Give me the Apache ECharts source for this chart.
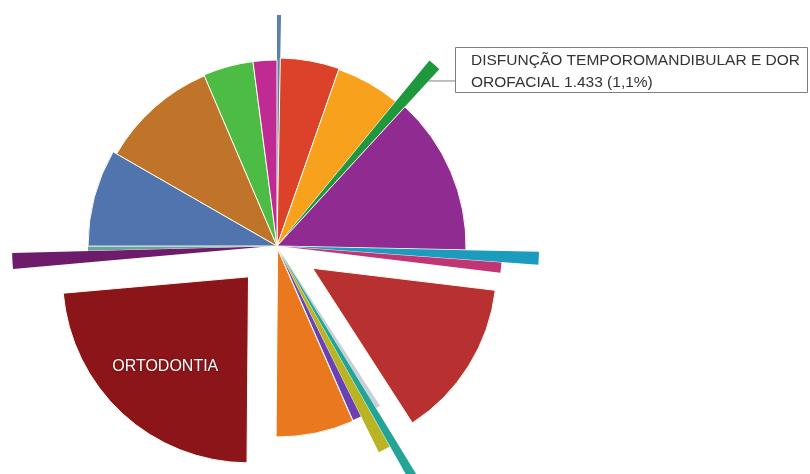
<!DOCTYPE html>
<html>
<head>
<meta charset="utf-8">
<script src="https://cdn.jsdelivr.net/npm/echarts@6/dist/echarts.min.js"></script>
<style>
html,body{margin:0;padding:0;background:#ffffff;}
#chart{width:810px;height:474px;}
</style>
</head>
<body>
<div id="chart"></div>
<script>
// Slices clockwise from 12 o'clock
const categories = [
  'Categoria 1', 'Categoria 2', 'Categoria 3',
  'DISFUNÇÃO TEMPOROMANDIBULAR E DOR OROFACIAL',
  'Categoria 5', 'Categoria 6', 'Categoria 7', 'Categoria 8', 'Categoria 9',
  'Categoria 10', 'Categoria 11', 'Categoria 12', 'Categoria 13',
  'ORTODONTIA',
  'Categoria 15', 'Categoria 16', 'Categoria 17', 'Categoria 18', 'Categoria 19', 'Categoria 20'
];
// share of the whole (%)
const shares = [0.28, 5.08, 5.58, 0.89, 13.50, 0.83, 0.75, 13.97, 0.39, 0.56,
                0.89, 0.72, 6.69, 23.47, 1.00, 0.39, 8.31, 10.28, 4.36, 2.06];
// second measure encoded by slice length
const radii = [228, 188, 187, 234, 189, 250, 219, 184, 186, 270,
               220, 186, 188, 186, 255, 189, 189, 185, 186, 186];
// callout figures shown in the reference
const calloutCount = '1.433';
const calloutPct = '1,1%';

// styling
const colors = ['#5b80aa', '#dc4129', '#f8a11d', '#1f983d', '#8f2b91', '#1b9cbc', '#c23574',
                '#b8302f', '#c9cfd6', '#22a597', '#b8b424', '#6b40b2', '#e9781f', '#8b1519',
                '#6e1b6c', '#6aa39b', '#5075ae', '#c0742a', '#4dbc45', '#c02a93'];
const explode = [3, 0, 0, 6, 0, 12, 6, 42, 4, 8, 10, 4, 3, 42, 10, 0, 0, 0, 0, 0];
const labelMode = ['', '', '', 'callout', '', '', '', '', '', '', '', '', '', 'inside', '', '', '', '', '', ''];

const total = shares.reduce((a, b) => a + b, 0);
let acc = 0;
const data = shares.map((v, i) => {
  const item = { name: categories[i], value: [acc, acc + v, radii[i], explode[i]] };
  acc += v;
  return item;
});

function calloutText(name) {
  // two-line callout, as in the reference
  const words = name.split(' ');
  const last = words.pop();
  return words.join(' ') + '\n' + last + ' ' + calloutCount + ' (' + calloutPct + ')';
}

function renderItem(params, api) {
  const i = params.dataIndex;
  const s = api.value(0), e = api.value(1), r = api.value(2), off = api.value(3);
  const mid = (s + e) / 2;
  const c = api.coord([0, mid]);
  const o = api.coord([off, mid]);
  const dx = o[0] - c[0], dy = o[1] - c[1];
  const ps = api.coord([r, s]);
  const pe = api.coord([r, e]);
  const rad = Math.hypot(ps[0] - c[0], ps[1] - c[1]);
  let a0 = Math.atan2(ps[1] - c[1], ps[0] - c[0]);
  let a1 = Math.atan2(pe[1] - c[1], pe[0] - c[0]);
  while (a1 <= a0) a1 += Math.PI * 2;
  const thin = shares[i] < 1.2;
  const children = [{
    type: 'sector',
    shape: { cx: o[0], cy: o[1], r0: 0, r: rad, startAngle: a0, endAngle: a1, clockwise: true },
    style: { fill: colors[i], stroke: thin ? null : '#fffdf0', lineWidth: thin ? 0 : 1 }
  }];
  if (labelMode[i] === 'inside') {
    const p = api.coord([r * 0.66, mid]);
    children.push({
      type: 'text', x: p[0] + dx, y: p[1] + dy,
      style: {
        text: categories[i], fill: '#ffffff', fontSize: 16,
        fontFamily: 'Liberation Sans, Arial, sans-serif',
        align: 'center', verticalAlign: 'middle',
        textShadowColor: 'rgba(0,0,0,0.45)', textShadowBlur: 2
      }
    });
  }
  if (labelMode[i] === 'callout') {
    const q = api.coord([r - 16, e]);
    const pt = [q[0] + dx, q[1] + dy];
    children.push({
      type: 'polyline',
      shape: { points: [pt, [455, pt[1]]] },
      style: { stroke: '#7f7f7f', lineWidth: 1, fill: null }
    });
    children.push({
      type: 'rect',
      shape: { x: 455.5, y: 47.5, width: 352, height: 45 },
      style: { fill: '#ffffff', stroke: '#7f7f7f', lineWidth: 1 }
    });
    children.push({
      type: 'text', x: 471, y: 50,
      style: {
        text: calloutText(categories[i]),
        lineHeight: 22,
        fontSize: 15.5, fontFamily: 'Liberation Sans, Arial, sans-serif',
        fill: '#333333', align: 'left', verticalAlign: 'top'
      }
    });
  }
  return { type: 'group', children: children };
}

const chart = echarts.init(document.getElementById('chart'), null, { renderer: 'canvas' });
chart.setOption({
  animation: false,
  backgroundColor: '#ffffff',
  polar: { center: [277, 246], radius: 270 },
  angleAxis: { type: 'value', min: 0, max: total, startAngle: 90, clockwise: true, show: false },
  radiusAxis: { type: 'value', min: 0, max: 270, show: false },
  series: [{
    type: 'custom',
    coordinateSystem: 'polar',
    renderItem: renderItem,
    encode: { radius: 2, angle: 0 },
    data: data
  }]
});
</script>
</body>
</html>
